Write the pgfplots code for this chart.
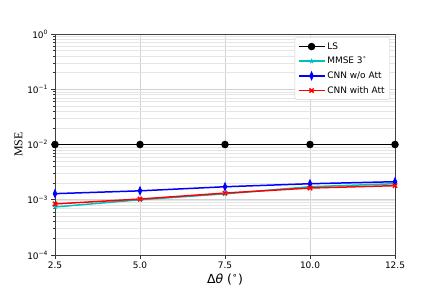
\documentclass[border=0pt]{standalone}
\usepackage{fontspec}
\setmainfont{DejaVu Sans}
\newfontfamily\seriffont{Liberation Serif}
\usepackage{pgfplots}
\pgfplotsset{compat=1.18}
\definecolor{mplc}{rgb}{0,0.75,0.75}
\begin{document}
\begin{tikzpicture}
\path[use as bounding box] (-55bp,-37bp) rectangle (384bp,255bp);
\begin{axis}[
  scale only axis,
  width=340bp, height=221bp,
  ymode=log,
  xmin=2.5, xmax=12.5,
  ymin=1e-4, ymax=1,
  xtick={2.5,5,7.5,10,12.5},
  xticklabels={2.5,5.0,7.5,10.0,12.5},
  ytick={1e-4,1e-3,1e-2,1e-1,1},
  yticklabels={10\textsuperscript{−4},10\textsuperscript{−3},10\textsuperscript{−2},10\textsuperscript{−1},10\textsuperscript{0}},
  tick label style={font=\fontsize{9}{10}\selectfont},
  tick align=outside,
  major tick length=3.5bp,
  minor tick length=2bp,
  tick style={black!80, line width=0.6pt},
  axis line style={black!75, line width=0.8pt},
  xtick pos=bottom, ytick pos=left,
  grid=both,
  major grid style={gray!35, line width=0.6pt},
  minor grid style={gray!20, line width=0.5pt},
  xminorgrids=false,
  xlabel={Δ{\itshape θ} (\textsuperscript{∘})},
  xlabel style={font=\fontsize{12.5}{14}\selectfont, yshift=2bp},
  ylabel={\seriffont MSE},
  ylabel style={font=\fontsize{12}{13}\selectfont, yshift=-2bp},
  legend style={at={(rel axis cs:0.985,0.985)}, anchor=north east,
    font=\fontsize{9}{10}\selectfont, draw=gray!40, rounded corners=2pt,
    row sep=2.5bp, inner sep=3pt},
  legend cell align=left,
  legend image code/.code={\draw[mark repeat=2,mark phase=2] plot coordinates {(0bp,0bp)(13bp,0bp)(26bp,0bp)};},
]
\addplot[black, line width=1.5pt, mark=*, mark size=3pt] coordinates {
(2.5,0.01) (5,0.01) (7.5,0.01) (10,0.01) (12.5,0.01)};
\addlegendentry{LS}
\addplot[mplc, line width=1.5pt, mark=star, mark size=2.5pt, mark options={line width=0.9pt}] coordinates {
(2.5,7.4e-4) (5,1.0e-3) (7.5,1.28e-3) (10,1.72e-3) (12.5,1.95e-3)};
\addlegendentry{MMSE 3\textsuperscript{∘}}
\addplot[blue, line width=1.5pt, mark=diamond*, mark size=3.2pt, mark options={xscale=0.6}] coordinates {
(2.5,1.29e-3) (5,1.45e-3) (7.5,1.72e-3) (10,1.95e-3) (12.5,2.12e-3)};
\addlegendentry{CNN w/o Att}
\addplot[red, line width=1.5pt, mark=x, mark size=3pt] coordinates {
(2.5,8.4e-4) (5,1.03e-3) (7.5,1.32e-3) (10,1.63e-3) (12.5,1.8e-3)};
\addlegendentry{CNN with Att}
\end{axis}
\end{tikzpicture}
\end{document}
